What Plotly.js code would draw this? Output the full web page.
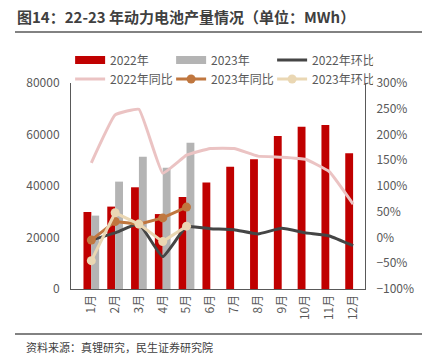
<!DOCTYPE html>
<html>
<head>
<meta charset="utf-8">
<script src="https://cdn.plot.ly/plotly-3.0.1.min.js"></script>
<style>html,body{margin:0;padding:0;background:#fff;}#chart{width:422px;height:363px;}</style>
</head>
<body>
<div id="chart"></div>
<script>
const months = ["1月","2月","3月","4月","5月","6月","7月","8月","9月","10月","11月","12月"];
const months23 = ["1月","2月","3月","4月","5月"];
const prod2022 = [29900, 32000, 39500, 29100, 35700, 41400, 47500, 50400, 59400, 63000, 63700, 52700];
const prod2023 = [28500, 41700, 51400, 47100, 56800];
const mom2022 = [-5, 9, 26, -37, 21, 17, 15, 7, 18, 9, 3, -16];
const yoy2022 = [145, 238, 249, 125, 160, 173, 173, 158, 156, 152, 128, 65];
const yoy2023 = [-5, 31, 26, 38, 59];
const mom2023 = [-45, 48, 26, -8, 22];

const FONT = '"Noto Sans CJK SC", "Noto Sans", sans-serif';
const RED = '#C00000', GRAY = '#B4B4B4';
const data = [
  {type:'bar', name:'2022年', x:months, y:prod2022, marker:{color:RED}, yaxis:'y', showlegend:false},
  {type:'bar', name:'2023年', x:months23, y:prod2023, marker:{color:GRAY}, yaxis:'y', showlegend:false},
  // legend swatches for the bars (wide rectangles as in the reference)
  {type:'scatter', mode:'lines', name:'2022年', x:[null], y:[null], line:{color:RED, width:8}, yaxis:'y'},
  {type:'scatter', mode:'lines', name:'2023年', x:[null], y:[null], line:{color:GRAY, width:8}, yaxis:'y'},
  {type:'scatter', mode:'lines', name:'2022年环比', x:months, y:mom2022, yaxis:'y2',
   line:{color:'#454545', width:3, shape:'spline', smoothing:0.4}},
  {type:'scatter', mode:'lines', name:'2022年同比', x:months, y:yoy2022, yaxis:'y2',
   line:{color:'#EBC3C3', width:3, shape:'spline', smoothing:0.3}},
  {type:'scatter', mode:'lines+markers', name:'2023年同比', x:months23, y:yoy2023, yaxis:'y2',
   line:{color:'#C0773F', width:3}, marker:{color:'#C0773F', size:9}},
  {type:'scatter', mode:'lines+markers', name:'2023年环比', x:months23, y:mom2023, yaxis:'y2',
   line:{color:'#EAD7B3', width:3}, marker:{color:'#EAD7B3', size:9}}
];

const layout = {
  width:422, height:363,
  margin:{l:71, r:57, t:83, b:74, autoexpand:false},
  paper_bgcolor:'#fff', plot_bgcolor:'#fff',
  font:{family:FONT, size:12, color:'#595959'},
  barmode:'group', bargap:0.34, bargroupgap:0,
  showlegend:true,
  legend:{orientation:'h', xref:'paper', yref:'paper', x:-0.003, xanchor:'left',
    y:(289-45.5)/206, yanchor:'top',
    entrywidth:56, entrywidthmode:'pixels', font:{size:12, color:'#595959', family:FONT},
    tracegroupgap:0, itemwidth:30, bgcolor:'rgba(0,0,0,0)'},
  xaxis:{type:'category', tickangle:-90, showline:true, linecolor:'#595959', linewidth:1,
    ticks:'', showgrid:false, zeroline:false, tickfont:{size:12, color:'#595959'}},
  yaxis:{range:[0,80000], dtick:20000, tickformat:'d', showline:true, linecolor:'#595959', linewidth:1,
    ticks:'', showgrid:false, zeroline:false, tickfont:{size:12, color:'#595959'}, ticklabelstandoff:8},
  yaxis2:{range:[-100,300], dtick:50, overlaying:'y', side:'right', showline:true,
    linecolor:'#595959', linewidth:1, ticks:'', showgrid:false, zeroline:false,
    ticksuffix:'%', tickfont:{size:12, color:'#595959'}, ticklabelstandoff:8},
  annotations:[
    {text:'<b>图14：22-23 年动力电池产量情况（单位：MWh）</b>', xref:'paper', yref:'paper',
     x:-0.19, xanchor:'left', y:(289-17)/206, yanchor:'middle', showarrow:false,
     font:{family:FONT, size:15, color:'#404040'}},
    {text:'资料来源：真锂研究，民生证券研究院', xref:'paper', yref:'paper',
     x:-0.16, xanchor:'left', y:(289-347)/206, yanchor:'middle', showarrow:false,
     font:{family:FONT, size:11, color:'#404040'}}
  ],
  shapes:[
    {type:'line', xref:'paper', yref:'paper', x0:(15-71)/294, x1:(422-71)/294,
     y0:(289-32)/206, y1:(289-32)/206, line:{color:'#595959', width:1.5}},
    {type:'line', xref:'paper', yref:'paper', x0:(15-71)/294, x1:(422-71)/294,
     y0:(289-334)/206, y1:(289-334)/206, line:{color:'#595959', width:1.5}}
  ]
};
Plotly.newPlot('chart', data, layout, {displayModeBar:false, staticPlot:true});
</script>
</body>
</html>
